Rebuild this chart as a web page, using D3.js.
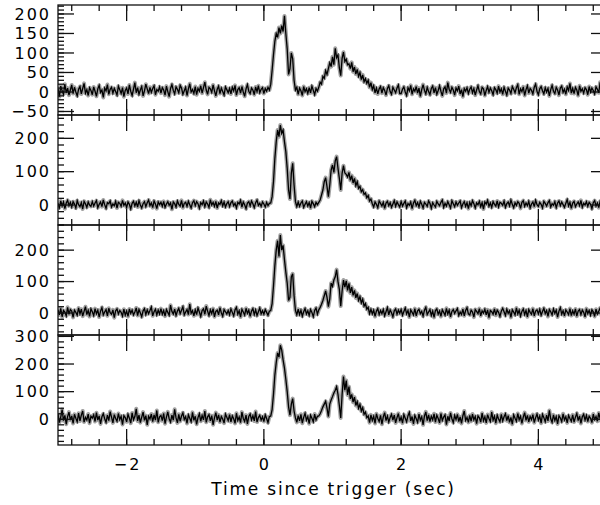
<!DOCTYPE html>
<html>
<head>
<meta charset="utf-8">
<script src="https://cdn.jsdelivr.net/npm/d3@7"></script>
<style>
  html, body { margin: 0; padding: 0; background: #fff; }
  svg { display: block; }
  text { font-family: "DejaVu Sans", sans-serif; fill: #000; }
</style>
</head>
<body>
<svg id="chart" width="600" height="505"></svg>
<script>
// ---- data ----
const binStart = -3.0;
const binWidth = 0.02;

const series1 = [
  8,-12,15,3,-6,20,-2,10,-8,5,18,-4,12,0,-10,7,14,-5,9,22,-3,6,-9,11,4,
  -7,13,2,-11,8,17,-1,5,-14,10,3,19,-6,7,12,-3,9,1,-8,15,6,-4,11,-12,4,
  10,-5,18,2,-9,7,24,-2,11,-6,5,14,-10,3,20,8,-4,12,-1,9,16,-7,6,2,13,
  -3,11,5,-8,15,1,-12,9,19,4,-5,13,7,-2,17,10,-6,3,12,-9,8,21,0,6,-4,
  14,-7,9,2,16,-3,11,25,5,-6,12,8,-1,18,3,-10,7,15,-4,10,1,-8,13,6,-2,
  9,-5,12,3,17,-8,6,11,-3,14,0,-11,8,19,2,-4,10,5,-7,13,1,16,-2,7,11,
  -4,9,2,12,5,20,55,95,130,150,140,165,150,170,155,195,150,110,45,60,100,85,30,5,12,
  -6,10,3,-9,14,1,8,-4,11,-2,15,4,-7,9,2,12,25,20,40,35,55,45,60,75,65,
  90,70,112,88,95,62,42,86,102,78,84,70,72,60,76,52,64,46,58,40,50,32,44,26,34,
  22,30,12,24,6,16,-2,10,-5,8,14,-3,11,4,-8,9,16,1,-6,12,5,-2,10,18,-4,
  -4,7,13,0,-9,11,3,17,-6,8,2,14,-3,10,-11,6,19,4,-5,12,1,-7,9,15,-2,
  11,-6,4,16,2,-10,8,13,-3,24,7,-1,12,5,-8,10,3,15,-5,6,-12,9,2,11,-4,
  7,13,-2,9,-8,5,16,1,-5,12,8,-9,4,14,-1,10,3,-7,11,6,-3,15,0,8,-6,
  12,2,-8,10,5,-4,14,7,-2,11,19,-6,8,1,13,-9,6,16,-3,9,4,-5,12,20,2,
  -7,8,14,3,-5,11,0,9,-10,6,17,2,-4,12,5,-8,10,15,-1,7,-6,13,4,22,-3,
  9,-4,12,5,-9,16,2,8,-3,11,6,-7,14,0,10,4,-5,13,7,-2,25,3,-6,10,1
];

const series2 = [
  5,-8,12,-3,9,-11,6,14,-2,8,-6,10,3,-9,13,1,-5,7,-12,11,4,-7,9,0,-4,
  10,-3,6,13,-8,2,9,-5,15,1,-10,7,4,12,-6,3,-2,11,-9,8,5,-4,14,-1,6,
  -7,9,2,-12,5,11,-3,8,-6,13,0,-9,4,10,-5,7,15,-2,6,-8,12,3,-11,9,1,
  8,-4,11,-7,3,10,-1,6,-13,9,4,-6,12,2,-3,14,-8,5,8,-4,11,1,-9,7,13,
  -2,10,4,-10,7,1,12,-5,9,3,-7,16,0,8,-4,11,-9,6,2,13,-3,9,-6,4,10,
  -5,7,12,-2,5,-9,8,3,14,-6,9,1,-11,6,10,-3,12,4,-8,7,15,-1,5,-4,9,
  3,-6,8,-2,5,6,25,70,140,190,225,205,240,215,225,190,160,110,45,18,95,125,60,10,-5,
  9,-4,6,12,-7,2,10,-3,7,-9,11,4,-5,8,1,8,15,30,45,70,82,55,25,60,105,
  120,98,132,145,110,80,45,95,118,96,92,84,98,74,88,66,80,58,70,50,56,40,46,32,36,
  22,28,12,18,4,-6,9,2,-8,12,5,-3,8,-10,6,11,-2,7,-7,3,13,-4,9,1,-6,
  10,-3,5,12,-8,4,-1,9,-11,6,14,-2,7,-6,11,2,-9,8,3,-4,12,5,-10,7,0,
  -6,11,3,-2,8,15,-7,5,-3,10,1,-9,13,4,-5,9,-1,6,12,-8,3,10,-4,7,-11,
  8,-2,13,4,-9,6,1,11,-5,7,-12,9,3,14,-4,6,-7,10,2,-3,12,-6,8,5,-1,
  12,-7,4,9,-3,15,2,-8,7,-1,10,5,-10,8,13,-4,6,-2,11,-9,3,9,-5,14,1,
  -4,8,2,-9,11,5,-3,7,13,-6,4,-1,10,-8,6,12,-2,9,1,-7,5,16,-3,8,-10,
  6,11,-5,3,9,-2,14,-7,5,0,10,-4,8,2,-11,7,13,-3,6,-8,11,4,-6,9,2
];

const series3 = [
  10,-6,15,-12,8,3,-9,18,-4,11,6,-14,9,2,-7,16,-3,12,-10,5,20,-5,8,-11,13,
  4,-8,14,-2,9,-13,6,17,-6,3,11,-9,15,1,-4,10,-15,7,13,-3,8,2,-10,12,-7,
  6,-11,13,-1,9,-6,3,16,-8,11,0,-12,7,14,-5,10,-2,8,19,-9,4,12,-6,9,-3,
  14,-4,8,-10,11,2,-7,25,5,-3,12,-8,6,15,-2,9,20,-6,3,11,-5,28,-1,7,-9,
  10,-5,16,3,-11,8,13,-4,22,6,-8,10,-2,14,-12,5,9,-6,17,1,-10,11,4,-3,8,
  -6,13,2,-9,10,18,-4,7,-13,12,3,-7,15,-1,9,-11,6,14,-5,10,-8,4,16,-3,7,
  -4,11,2,-7,6,8,30,85,150,200,230,180,248,200,215,170,130,95,40,50,115,125,55,8,-6,
  12,-5,9,-10,4,14,-3,7,-8,11,2,-12,8,16,-4,10,18,28,40,55,70,50,20,45,95,
  85,105,115,138,100,75,22,70,105,82,102,72,94,64,82,56,72,48,62,40,52,32,44,22,30,
  12,18,-2,12,-3,9,-11,6,14,-5,8,-2,11,-9,4,17,-6,10,1,-12,7,13,-4,9,-1,
  11,-7,5,16,-3,8,-13,10,2,-6,14,-9,7,12,-2,5,-10,9,18,-5,3,11,-8,6,-14,
  8,13,-4,6,-11,10,2,-7,15,-3,9,-12,5,11,-1,7,14,-8,3,-5,12,-9,8,17,-3,
  -6,9,3,-13,11,5,-2,14,-9,7,0,12,-6,10,-15,8,4,-4,13,-7,9,2,-11,6,15,
  4,-8,12,-1,7,-14,10,3,-6,16,-3,9,-10,5,13,-5,8,-12,11,2,-4,14,-9,6,10,
  -3,12,-7,5,15,-2,8,-11,11,4,-6,13,-1,9,-13,6,17,-4,7,-9,10,3,-5,14,-8,
  7,-4,13,-10,6,11,-5,9,2,-12,14,-2,8,-7,10,4,-11,12,-3,6,16,-8,5,11,-2
];

const series4 = [
  20,-12,8,35,-5,14,-18,10,26,-3,12,-15,18,4,-9,22,-6,15,30,-10,7,-2,19,-14,11,
  5,16,-8,24,-3,12,-17,9,20,2,-11,15,-5,28,8,-13,17,3,-7,21,-1,11,-19,13,6,
  -9,18,4,-14,23,-2,10,38,-6,15,-12,8,26,-4,13,-20,11,1,19,-8,16,-3,32,-11,9,
  14,-5,21,-16,8,27,2,-10,15,-3,36,5,-13,18,-7,12,23,-1,9,-15,16,4,-9,25,-4,
  11,-18,6,20,-7,14,-2,30,-11,9,17,-6,13,-20,5,24,-3,16,-10,10,1,-14,19,7,-5,
  17,-9,12,2,-15,22,-4,8,-12,26,3,-8,15,-17,10,19,-2,13,-6,28,-10,6,14,-3,9,
  -8,16,3,-12,10,12,35,90,160,205,240,225,268,250,215,185,145,100,45,15,55,75,30,5,-11,
  13,-6,18,-14,7,22,-3,10,-16,15,4,-9,19,-2,11,12,20,32,45,55,65,40,10,55,70,
  82,95,105,118,90,50,5,90,155,105,140,88,118,74,90,62,80,50,64,40,54,30,42,18,26,
  6,12,-12,16,-4,11,-15,20,3,-8,14,-18,9,24,-5,12,-10,7,18,-3,15,-13,6,21,-7,
  8,-14,17,4,-9,13,25,-6,10,-17,14,2,-11,19,-3,9,-20,12,27,-5,16,-8,11,-2,20,
  -10,15,3,-13,21,-4,8,16,-19,11,-6,23,2,-12,14,-1,18,-8,9,-15,13,30,-4,7,-11,
  14,-7,19,-2,10,-16,12,5,-10,22,-5,9,-13,17,3,-8,26,-3,11,-14,15,1,-9,18,-6,
  9,20,-5,13,-11,7,-18,16,4,-7,21,-2,11,-15,8,24,-4,14,-9,10,-1,17,-12,6,19,
  -3,12,-14,18,6,-9,15,-6,32,2,-11,16,-4,10,-17,13,5,-8,20,-2,9,-13,14,3,-7,
  16,-10,8,21,-5,12,-15,9,18,-3,14,-8,11,4,-12,19,-1,10,-7,23,2,-9,15,-4,8
];

const xDomain = [-3, 5];
const xMajorTicks = [-2, 0, 2, 4];
const xTickLabels = ["\u22122", "0", "2", "4"];
const xTitle = "Time since trigger (sec)";

const panelDomains = [[-59, 223], [-60, 270], [-70, 280], [-93, 305]];
const panelMajorTicks = [[-50, 0, 50, 100, 150, 200], [0, 100, 200], [0, 100, 200], [0, 100, 200, 300]];
const panelLabelTicks = [[-50, 0, 50, 100, 150, 200], [0, 100, 200], [0, 100, 200], [0, 100, 200, 300]];
const panelMinorStep = [10, 20, 20, 20];
const seriesList = [series1, series2, series3, series4];

// ---- layout ----
const svg = d3.select("#chart");
const left = 58, right = 607;
const panelTop = 5, panelH = 110;
const majorLen = 16, minorLen = 6;

const x = d3.scaleLinear().domain(xDomain).range([left, right]);
const xMinor = d3.range(-2.8, 5.0, 0.4).map(v => +v.toFixed(2));

const fmt = v => (v < 0 ? "\u2212" + Math.abs(v) : String(v));

seriesList.forEach((vals, p) => {
  const top = panelTop + p * panelH;
  const bottom = top + panelH;
  const y = d3.scaleLinear().domain(panelDomains[p]).range([bottom, top]);
  const g = svg.append("g");

  const clipId = "clip" + p;
  svg.append("clipPath").attr("id", clipId)
    .append("rect").attr("x", left).attr("y", top).attr("width", right - left).attr("height", panelH);

  const pts = vals.map((v, i) => [binStart + i * binWidth, v]);
  const line = d3.line().x(d => x(d[0])).y(d => y(d[1]));

  const lg = g.append("g").attr("clip-path", `url(#${clipId})`);
  lg.append("path").datum(pts).attr("d", line)
    .attr("fill", "none").attr("stroke", "#555").attr("stroke-width", 4).attr("stroke-opacity", 0.55)
    .attr("stroke-linejoin", "round");
  lg.append("path").datum(pts).attr("d", line)
    .attr("fill", "none").attr("stroke", "#000").attr("stroke-width", 1.3)
    .attr("stroke-linejoin", "miter");

  g.append("rect").attr("x", left).attr("y", top).attr("width", right - left).attr("height", panelH)
    .attr("fill", "none").attr("stroke", "#111").attr("stroke-width", 1.3);

  const tk = g.append("g").attr("stroke", "#111").attr("stroke-width", 1.3);
  const [d0, d1] = panelDomains[p];
  const step = panelMinorStep[p];
  const yMinor = d3.range(Math.ceil(d0 / step) * step, d1 + 0.001, step);
  yMinor.forEach(v => {
    const yy = y(v);
    tk.append("line").attr("x1", left).attr("x2", left + minorLen).attr("y1", yy).attr("y2", yy);
    tk.append("line").attr("x1", right).attr("x2", right - minorLen).attr("y1", yy).attr("y2", yy);
  });
  panelMajorTicks[p].forEach(v => {
    const yy = y(v);
    tk.append("line").attr("x1", left).attr("x2", left + majorLen).attr("y1", yy).attr("y2", yy);
    tk.append("line").attr("x1", right).attr("x2", right - majorLen).attr("y1", yy).attr("y2", yy);
  });
  xMinor.forEach(v => {
    const xx = x(v);
    tk.append("line").attr("x1", xx).attr("x2", xx).attr("y1", top).attr("y2", top + minorLen);
    tk.append("line").attr("x1", xx).attr("x2", xx).attr("y1", bottom).attr("y2", bottom - minorLen);
  });
  xMajorTicks.forEach(v => {
    const xx = x(v);
    tk.append("line").attr("x1", xx).attr("x2", xx).attr("y1", top).attr("y2", top + majorLen);
    tk.append("line").attr("x1", xx).attr("x2", xx).attr("y1", bottom).attr("y2", bottom - majorLen);
  });

  g.selectAll("text.yl").data(panelLabelTicks[p]).enter().append("text")
    .attr("class", "yl")
    .attr("x", 51).attr("y", d => y(d)).attr("dy", "0.36em")
    .attr("text-anchor", "end")
    .style("font-size", "16px").style("letter-spacing", "2px")
    .text(fmt);
});

const bottomY = panelTop + 4 * panelH;
svg.selectAll("text.xl").data(xMajorTicks).enter().append("text")
  .attr("class", "xl")
  .attr("x", (d, i) => x(d) + 1).attr("y", bottomY + 25)
  .attr("text-anchor", "middle")
  .style("font-size", "16px").style("letter-spacing", "2px")
  .text((d, i) => xTickLabels[i]);

svg.append("text")
  .attr("x", (left + right) / 2 + 1).attr("y", bottomY + 50)
  .attr("text-anchor", "middle")
  .style("font-size", "17px").style("letter-spacing", "1.8px")
  .text(xTitle);
</script>
</body>
</html>
